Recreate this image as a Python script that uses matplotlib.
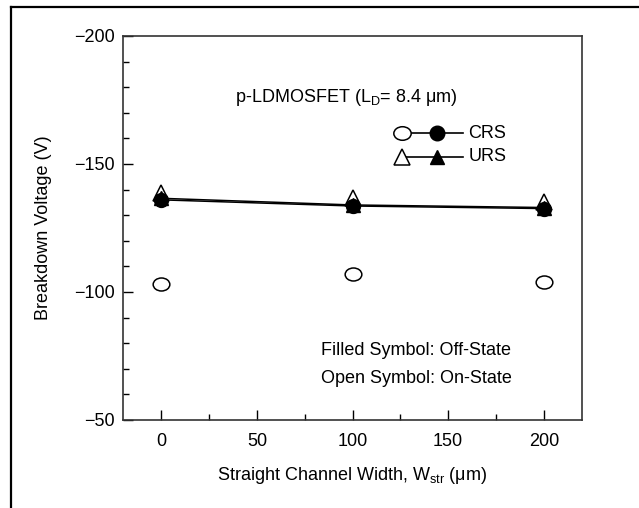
import matplotlib
matplotlib.use("Agg")
import matplotlib.pyplot as plt
from matplotlib.lines import Line2D
from matplotlib.path import Path
from matplotlib.ticker import MultipleLocator, FixedLocator
import numpy as np

plt.rcParams['font.family'] = ['Liberation Sans', 'DejaVu Sans']
plt.rcParams['mathtext.fontset'] = 'custom'
plt.rcParams['mathtext.rm'] = 'Liberation Sans'
plt.rcParams['mathtext.it'] = 'Liberation Sans:italic'

# data
width = [0, 100, 200]
crs_off = [-136.0, -133.6, -132.6]
urs_off = [-136.6, -134.0, -133.0]
crs_on = [-103.1, -106.9, -103.8]
urs_on = [-138.8, -136.8, -135.3]

xticks = [0, 50, 100, 150, 200]
yticks = [-200, -150, -100, -50]
ytick_labels = ['\u2212200', '\u2212150', '\u2212100', '\u221250']

fs = 13
fig = plt.figure(figsize=(6.39, 5.08), dpi=100)
ax = fig.add_axes([123/639, 1-420/508, (582-123)/639, (420-36)/508])

# outer frame
fig.add_artist(Line2D([11/639, 1.0], [1-7/508, 1-7/508], transform=fig.transFigure, color='black', lw=1.6))
fig.add_artist(Line2D([11/639, 11/639], [0, 1-7/508], transform=fig.transFigure, color='black', lw=1.6))

# ellipse marker for open circle
circ = Path.unit_circle()
ell = Path(circ.vertices * np.array([1.0, 0.78]), circ.codes)

ax.plot(width, crs_on, ls='none', marker=ell, ms=12, mfc='white', mec='black', mew=1.1, zorder=3)
ax.plot(width, urs_on, ls='none', marker='^', ms=11.5, mfc='white', mec='black', mew=1.1, zorder=3)
ax.plot(width, crs_off, color='black', lw=1.1, marker='o', ms=10, mfc='black', mec='black', zorder=4)
ax.plot(width, urs_off, color='black', lw=1.1, marker='^', ms=10, mfc='black', mec='black', zorder=4)

ax.set_xlim(-20, 220)
ax.set_ylim(-50, -200)
ax.xaxis.set_major_locator(FixedLocator(xticks))
ax.xaxis.set_minor_locator(MultipleLocator(25))
ax.yaxis.set_major_locator(FixedLocator(yticks))
ax.set_yticklabels(ytick_labels)
ax.yaxis.set_minor_locator(MultipleLocator(10))
ax.tick_params(which='both', direction='in', labelsize=fs, color='black')
ax.tick_params(which='major', length=7, width=1.0)
ax.tick_params(which='minor', length=4, width=1.0)
ax.tick_params(axis='x', pad=9)
ax.tick_params(axis='y', pad=6)
for s in ax.spines.values():
    s.set_color('#333333')
    s.set_linewidth(1.2)

ax.set_xlabel('Straight Channel Width, W$_{\\mathrm{str}}$ (\u03bcm)', fontsize=fs, labelpad=11)
ax.set_ylabel('Breakdown Voltage (V)', fontsize=fs, labelpad=16)

# annotations
ax.text(0.487, 0.841, 'p-LDMOSFET (L$_{\\mathrm{D}}$= 8.4 \u03bcm)', transform=ax.transAxes,
        ha='center', va='center', fontsize=fs)
ax.text(0.431, 0.182, 'Filled Symbol: Off-State', transform=ax.transAxes, ha='left', va='center', fontsize=fs)
ax.text(0.431, 0.107, 'Open Symbol: On-State', transform=ax.transAxes, ha='left', va='center', fontsize=fs)

# custom legend
rows = [(0.747, ell, 'o', 'CRS', 12.5, 10.5), (0.685, '^', '^', 'URS', 11.5, 10.5)]
for y, m_open, m_fill, lab, ms1, ms2 in rows:
    ax.add_line(Line2D([0.608, 0.741], [y, y], transform=ax.transAxes, color='black', lw=1.2))
    ax.add_line(Line2D([0.608], [y], transform=ax.transAxes, ls='none', marker=m_open, ms=ms1,
                       mfc='white', mec='black', mew=1.1))
    ax.add_line(Line2D([0.684], [y], transform=ax.transAxes, ls='none', marker=m_fill, ms=ms2,
                       mfc='black', mec='black'))
    ax.text(0.752, y, lab, transform=ax.transAxes, ha='left', va='center', fontsize=fs)

fig.savefig('out.png', dpi=100)
